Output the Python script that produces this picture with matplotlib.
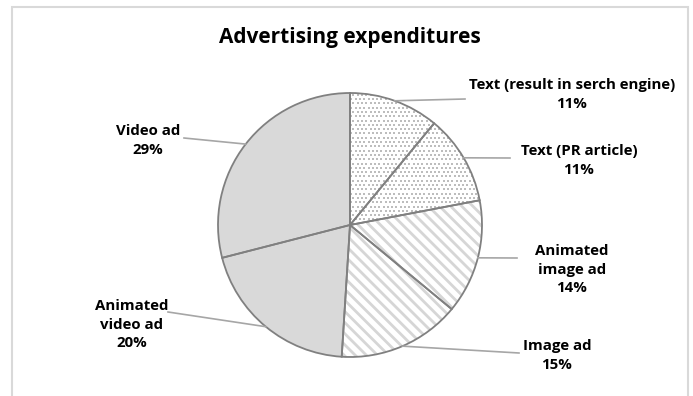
import matplotlib.pyplot as plt
import matplotlib.patches as mpatches
import numpy as np

plt.rcParams['font.family'] = ['Open Sans', 'DejaVu Sans']

# Share of the ad budget per channel, clockwise from 12 o'clock
labels = ['Text (result in serch engine)', 'Text (PR article)', 'Animated\nimage ad',
          'Image ad', 'Animated\nvideo ad', 'Video ad']
shares = [11, 11, 14, 15, 20, 29]

W, H = 693, 396
fig = plt.figure(figsize=(W / 100, H / 100), dpi=100)
fig.patch.set_facecolor('white')
ax = fig.add_axes([0, 0, 1, 1])

# chart frame
ax.add_patch(mpatches.Rectangle((12, -5), 676, H - 7 + 5, fill=False,
                                edgecolor='#d9d9d9', lw=1.5, zorder=0))

ax.text(350, H - 38, 'Advertising expenditures', ha='center', va='center',
        fontsize=15, fontweight='bold', color='black')

cx, cy, r = 350, H - 225, 132
fills = ['white', 'white', 'white', 'white', '#d9d9d9', '#d9d9d9']
patterns = ['dots', 'dots', '\\\\\\', '\\\\\\', None, None]

# fill layer; hatch colour follows edgecolor
plt.rcParams['hatch.linewidth'] = 2.0
wedges, _ = ax.pie(shares, startangle=90, counterclock=False, radius=r,
                   center=(cx, cy), frame=True,
                   wedgeprops=dict(linewidth=0))

# fine dot texture used by the two text slices
gx, gy = np.meshgrid(np.arange(cx - r, cx + r, 4.3), np.arange(cy - r, cy + r, 4.3))
gx = gx + (np.arange(gx.shape[0])[:, None] % 2) * 2.15

for w, fc, pat in zip(wedges, fills, patterns):
    w.set_facecolor(fc)
    w.set_linewidth(0)
    if pat == 'dots':
        w.set_edgecolor(fc)
        dots = ax.scatter(gx.ravel(), gy.ravel(), s=0.6, marker='s', c='#bdbdbd',
                          linewidths=0, zorder=w.get_zorder() + 0.1)
        dots.set_clip_path(w)
    elif pat:
        w.set_edgecolor('#d6d6d6')
        w.set_hatch(pat)
    else:
        w.set_edgecolor(fc)

# outline layer
ax.pie(shares, startangle=90, counterclock=False, radius=r, center=(cx, cy),
       frame=True, colors=['none'] * len(shares),
       wedgeprops=dict(edgecolor='#808080', linewidth=1.3, zorder=3))
ax.set_xlim(0, W)
ax.set_ylim(0, H)
ax.set_aspect('equal')
ax.axis('off')

# label centres (first line) and leader end points
label_pos = [(572, H - 87), (579, H - 153), (572, H - 253),
             (557, H - 348), (132, H - 308), (148, H - 133)]
leader_end = [(465, H - 99), (510, H - 158), (517, H - 258),
              (519, H - 353), (168, H - 312), (184, H - 138)]

angles = 90 - 3.6 * (np.cumsum(shares) - np.array(shares) / 2)
for lbl, s, a, (lx, ly), (ex, ey) in zip(labels, shares, angles, label_pos, leader_end):
    px = cx + r * np.cos(np.radians(a))
    py = cy + r * np.sin(np.radians(a))
    ax.plot([px, ex], [py, ey], color='#a6a6a6', lw=1.2, zorder=5)
    ax.text(lx, ly + 9, f'{lbl}\n{s}%', ha='center', va='top', fontsize=10.8,
            fontweight='bold', color='black', linespacing=1.42, zorder=6)

fig.savefig('out.png', dpi=100, facecolor='white')
